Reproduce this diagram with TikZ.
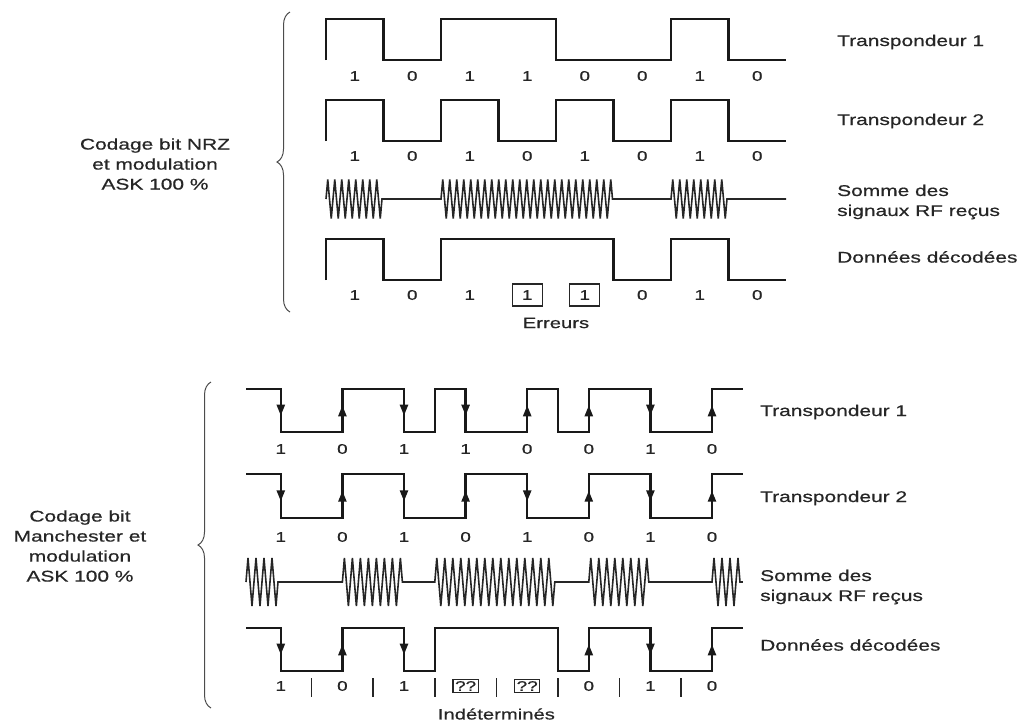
\documentclass[tikz,border=0pt]{standalone}
\usepackage{fontspec}
\setmainfont{Liberation Sans}[FakeStretch=1.35, FakeBold=0.6]
\usepackage{tikz}
\usetikzlibrary{arrows.meta, decorations.pathmorphing, decorations.pathreplacing, decorations.markings}

\begin{document}
\begin{tikzpicture}[
    x=1pt, y=-1pt,
    wave/.style={line width=2.4pt, draw=black!90, line join=miter},
    rf/.style={line width=1.6pt, draw=black!85, decoration={zigzag, amplitude=19.5pt, segment length=7pt}},
    rfb/.style={line width=1.6pt, draw=black!85, decoration={zigzag, amplitude=24pt, segment length=8pt}},
    bit/.style={font=\fontsize{14}{16}\selectfont, text=black!85},
    err/.style={bit, draw=black!85, line width=1.2pt, minimum width=30pt, minimum height=22pt, inner sep=1pt},
    unk/.style={bit, draw=black!85, line width=1.2pt, inner sep=2pt},
    lbl/.style={font=\fontsize{15.5}{20}\selectfont, text=black!85, anchor=west, align=left, inner sep=0pt},
    side/.style={font=\fontsize{15.5}{20}\selectfont, text=black!85, align=center},
    note/.style={font=\fontsize{15}{18}\selectfont, text=black!85},
    accolade/.style={decorate, decoration={brace, amplitude=13pt}, line width=1pt, draw=black!70},
    mid/.style={postaction={decorate, decoration={markings, mark=at position 0.62 with {\arrow{Triangle[length=11pt, width=8pt]}}}}},
    sep/.style={line width=1.5pt, draw=black!85}
]
\useasboundingbox (0,0) rectangle (1021,724);

% NRZ
\node[side] (nrz) at (155,164) {Codage bit NRZ\\et modulation\\ASK 100 \%};
\draw[accolade] (290,312) -- (290,12);

\draw[wave] (326,60) -- (326,19) -- (383.5,19) -- (383.5,60) -- (441,60) -- (441,19) -- (556,19) -- (556,60)
  -- (671,60) -- (671,19) -- (728.5,19) -- (728.5,60) -- (786,60);
\draw[wave] (326,141) -- (326,100) -- (383.5,100) -- (383.5,141) -- (441,141) -- (441,100) -- (498.5,100)
  -- (498.5,141) -- (556,141) -- (556,100) -- (613.5,100) -- (613.5,141) -- (671,141) -- (671,100)
  -- (728.5,100) -- (728.5,141) -- (786,141);
\draw[rf] (326,199) decorate {-- (383.5,199)} -- (441,199) decorate {-- (613.5,199)} -- (671,199)
  decorate {-- (728.5,199)} -- (786,199);
\draw[wave] (326,280) -- (326,239) -- (383.5,239) -- (383.5,280) -- (441,280) -- (441,239) -- (613.5,239)
  -- (613.5,280) -- (671,280) -- (671,239) -- (728.5,239) -- (728.5,280) -- (786,280);

\foreach \b [count=\i from 0] in {1,0,1,1,0,0,1,0}
  \node[bit] (nrzA\i) at ({354.75+57.5*\i},76) {\b};
\foreach \b [count=\i from 0] in {1,0,1,0,1,0,1,0}
  \node[bit] (nrzB\i) at ({354.75+57.5*\i},156) {\b};
\foreach \b/\s [count=\i from 0] in {1/bit,0/bit,1/bit,1/err,1/err,0/bit,1/bit,0/bit}
  \node[\s] (nrzD\i) at ({354.75+57.5*\i},295) {\b};
\node[note] (erreurs) at (556,323) {Erreurs};

\node[lbl] (nrzT1) at (837,42) {Transpondeur 1};
\node[lbl] (nrzT2) at (837,121) {Transpondeur 2};
\node[lbl] (nrzRF) at (837,202) {Somme des\\signaux RF reçus};
\node[lbl] (nrzDD) at (837,257) {Données décodées};

% Manchester
\node[side] (manch) at (80,546) {Codage bit\\Manchester et\\modulation\\ASK 100 \%};
\draw[accolade] (211,708) -- (211,382);

\draw[wave] (246,389) -- (280.8,389) -- (280.8,432) -- (342.4,432) -- (342.4,389) -- (404,389) -- (404,432)
  -- (434.8,432) -- (434.8,389) -- (465.6,389) -- (465.6,432) -- (527.2,432) -- (527.2,389) -- (558,389)
  -- (558,432) -- (588.8,432) -- (588.8,389) -- (650.4,389) -- (650.4,432) -- (712,432) -- (712,389) -- (742.8,389);
\foreach \x in {280.8,404,465.6,650.4} \draw[wave, mid] (\x,389) -- (\x,432);
\foreach \x in {342.4,527.2,588.8,712} \draw[wave, mid] (\x,432) -- (\x,389);

\draw[wave] (246,474) -- (280.8,474) -- (280.8,518) -- (342.4,518) -- (342.4,474) -- (404,474) -- (404,518)
  -- (465.6,518) -- (465.6,474) -- (527.2,474) -- (527.2,518) -- (588.8,518) -- (588.8,474) -- (650.4,474)
  -- (650.4,518) -- (712,518) -- (712,474) -- (742.8,474);
\foreach \x in {280.8,404,527.2,650.4} \draw[wave, mid] (\x,474) -- (\x,518);
\foreach \x in {342.4,465.6,588.8,712} \draw[wave, mid] (\x,518) -- (\x,474);

\draw[rfb] (246,582) decorate {-- (280.8,582)} -- (342.4,582) decorate {-- (404,582)} -- (434.8,582)
  decorate {-- (558,582)} -- (588.8,582) decorate {-- (650.4,582)} -- (712,582) decorate {-- (742.8,582)};

\draw[wave] (246,628) -- (280.8,628) -- (280.8,671) -- (342.4,671) -- (342.4,628) -- (404,628) -- (404,671)
  -- (434.8,671) -- (434.8,628) -- (558,628) -- (558,671) -- (588.8,671) -- (588.8,628) -- (650.4,628)
  -- (650.4,671) -- (712,671) -- (712,628) -- (742.8,628);
\foreach \x in {280.8,404,650.4} \draw[wave, mid] (\x,628) -- (\x,671);
\foreach \x in {342.4,588.8,712} \draw[wave, mid] (\x,671) -- (\x,628);

\foreach \b [count=\i from 0] in {1,0,1,1,0,0,1,0}
  \node[bit] (manA\i) at ({280.8+61.6*\i},449) {\b};
\foreach \b [count=\i from 0] in {1,0,1,0,1,0,1,0}
  \node[bit] (manB\i) at ({280.8+61.6*\i},537) {\b};
\foreach \b/\s [count=\i from 0] in {1/bit,0/bit,1/bit,??/unk,??/unk,0/bit,1/bit,0/bit}
  \node[\s] (manD\i) at ({280.8+61.6*\i},686) {\b};
\foreach \k in {1,...,7}
  \draw[sep] ({250+61.6*\k},678) -- ({250+61.6*\k},697);
\node[note] (indet) at (496.4,714) {Indéterminés};

\node[lbl] (manT1) at (760,412) {Transpondeur 1};
\node[lbl] (manT2) at (760,498) {Transpondeur 2};
\node[lbl] (manRF) at (760,587) {Somme des\\signaux RF reçus};
\node[lbl] (manDD) at (760,645) {Données décodées};
\end{tikzpicture}
\end{document}
